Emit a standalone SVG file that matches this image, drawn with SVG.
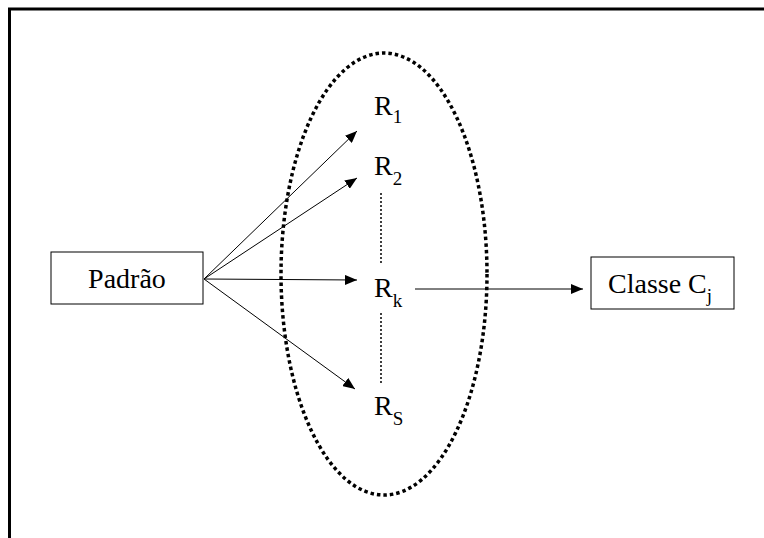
<svg xmlns="http://www.w3.org/2000/svg" width="764" height="538" viewBox="0 0 764 538">
<style>
text{font-family:'Liberation Serif','Times New Roman','DejaVu Serif',serif;fill:#000}
.t{font-size:28px}
.s{font-size:19px}
.box{fill:#fff;stroke:#000;stroke-width:1}
.ln{stroke:#000;stroke-width:1;fill:none}
.dot{stroke:#000;stroke-width:1.5;stroke-dasharray:2 2;fill:none}
</style>
<defs>
<marker id="ah" markerWidth="12" markerHeight="10" refX="12" refY="5" orient="auto" markerUnits="userSpaceOnUse">
<path d="M0,0 L12,5 L0,10 Z" fill="#000"/>
</marker>
</defs>
<rect width="764" height="538" fill="#fff"/>
<rect x="9.5" y="9" width="800" height="600" fill="none" stroke="#000" stroke-width="3"/>
<ellipse cx="384" cy="274" rx="103" ry="221" fill="none" stroke="#000" stroke-width="3.5" stroke-dasharray="3.5 3"/>
<g id="connectors">
<line class="ln" x1="204" y1="279" x2="357" y2="131" marker-end="url(#ah)"/>
<line class="ln" x1="204" y1="279" x2="357" y2="178" marker-end="url(#ah)"/>
<line class="ln" x1="204" y1="279" x2="357" y2="280" marker-end="url(#ah)"/>
<line class="ln" x1="204" y1="279" x2="355" y2="389" marker-end="url(#ah)"/>
<line class="ln" x1="415" y1="289" x2="583" y2="289" marker-end="url(#ah)"/>
<line class="dot" x1="381" y1="193" x2="381" y2="263"/>
<line class="dot" x1="381" y1="313" x2="381" y2="385"/>
</g>
<g id="padrao">
<rect class="box" x="51" y="252" width="152" height="52"/>
<text class="t" x="127" y="288" text-anchor="middle" font-family="Liberation Serif, serif">Padrão</text>
</g>
<g id="r1"><text class="t" x="374" y="115" font-family="Liberation Serif, serif">R<tspan class="s" dy="8">1</tspan></text></g>
<g id="r2"><text class="t" x="374" y="175" font-family="Liberation Serif, serif">R<tspan class="s" dy="10">2</tspan></text></g>
<g id="rk"><text class="t" x="374" y="297" font-family="Liberation Serif, serif">R<tspan class="s" dy="10">k</tspan></text></g>
<g id="rs"><text class="t" x="374" y="415" font-family="Liberation Serif, serif">R<tspan class="s" dy="10">S</tspan></text></g>
<g id="classe">
<rect class="box" x="591" y="257" width="143" height="52"/>
<text class="t" x="608" y="293" font-family="Liberation Serif, serif">Classe C<tspan class="s" dy="9">j</tspan></text>
</g>
</svg>
